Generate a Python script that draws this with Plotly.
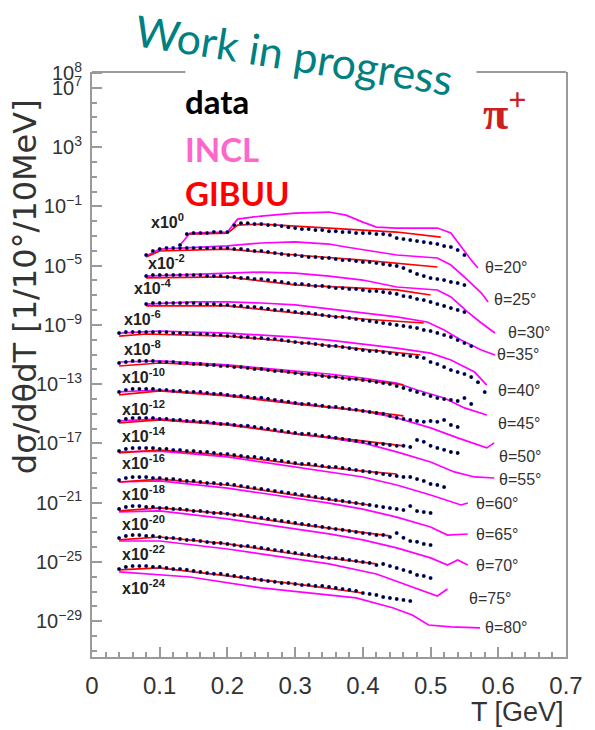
import numpy as np
import plotly.graph_objects as go

# ---------------- data (log10 of unscaled cross section) ----------------
ANGLES = [20, 25, 30, 35, 40, 45, 50, 55, 60, 65, 70, 75, 80]
SCALE_EXP = [0, -2, -4, -6, -8, -10, -12, -14, -16, -18, -20, -22, -24]
DATA_T0 = [0.13, 0.08, 0.08, 0.08, 0.04, 0.04, 0.04, 0.04, 0.04, 0.04, 0.04, 0.04, 0.04]
DATA_STEP = 0.01

DATA_LOG = [
    [-3.61, -2.87, -2.80, -2.80, -2.80, -2.73, -2.73, -2.73, -2.26, -2.13, -2.13, -2.19, -2.19, -2.26, -2.26,
     -2.33, -2.40, -2.46, -2.53, -2.53, -2.60, -2.60, -2.67, -2.67, -2.73, -2.73, -2.80, -2.80, -2.80, -2.87,
     -2.87, -2.93, -3.14, -3.20, -3.27, -3.34, -3.41, -3.47, -3.54, -3.68, -3.74, -3.95, -4.28],
    [-2.28, -2.01, -1.88, -1.81, -1.81, -1.81, -1.81, -1.81, -1.81, -1.81, -1.81, -1.81, -1.81, -1.88, -1.88,
     -1.94, -2.01, -2.01, -2.08, -2.15, -2.21, -2.28, -2.28, -2.35, -2.42, -2.42, -2.48, -2.48, -2.55, -2.62,
     -2.62, -2.69, -2.75, -2.75, -2.82, -2.89, -2.96, -3.02, -3.16, -3.36, -3.56, -3.70, -3.84, -3.90, -3.97,
     -4.10, -4.17, -4.31],
    [-1.70, -1.63, -1.63, -1.63, -1.63, -1.63, -1.63, -1.63, -1.63, -1.70, -1.70, -1.70, -1.76, -1.76, -1.83,
     -1.83, -1.90, -1.90, -1.97, -2.03, -2.10, -2.17, -2.24, -2.24, -2.30, -2.37, -2.37, -2.44, -2.51, -2.51,
     -2.57, -2.57, -2.64, -2.71, -2.71, -2.78, -2.84, -2.91, -3.05, -3.11, -3.25, -3.32, -3.45, -3.59, -3.72,
     -3.86, -3.99, -4.13],
    [-1.59, -1.52, -1.52, -1.52, -1.52, -1.52, -1.52, -1.52, -1.59, -1.59, -1.59, -1.65, -1.65, -1.72, -1.72,
     -1.79, -1.79, -1.86, -1.92, -1.99, -1.99, -2.06, -2.13, -2.19, -2.19, -2.26, -2.33, -2.40, -2.46, -2.46,
     -2.53, -2.60, -2.67, -2.73, -2.80, -2.87, -2.94, -3.00, -3.07, -3.14, -3.21, -3.34, -3.41, -3.54, -3.68,
     -3.81, -4.02, -4.22, -4.42],
    [-1.55, -1.48, -1.48, -1.48, -1.48, -1.48, -1.48, -1.48, -1.55, -1.55, -1.55, -1.61, -1.61, -1.61, -1.68,
     -1.68, -1.75, -1.75, -1.82, -1.82, -1.88, -1.88, -1.95, -1.95, -2.02, -2.09, -2.15, -2.22, -2.22, -2.29,
     -2.36, -2.42, -2.42, -2.49, -2.56, -2.63, -2.69, -2.76, -2.76, -2.83, -2.90, -2.96, -3.03, -3.10, -3.17,
     -3.23, -3.50, -3.64, -3.84, -4.04, -4.18, -4.31, -4.52, -4.86, -5.53],
    [-1.57, -1.50, -1.43, -1.43, -1.43, -1.43, -1.50, -1.50, -1.50, -1.57, -1.57, -1.63, -1.63, -1.70, -1.70,
     -1.77, -1.77, -1.84, -1.84, -1.90, -1.97, -1.97, -2.04, -2.11, -2.11, -2.17, -2.24, -2.31, -2.31, -2.38,
     -2.44, -2.51, -2.51, -2.58, -2.65, -2.65, -2.71, -2.78, -2.85, -2.92, -2.98, -3.12, -3.25, -3.39, -3.52,
     -3.66, -3.79, -3.93, -4.00, -4.06, -4.13, -3.93, -4.33],
    [-1.52, -1.39, -1.32, -1.32, -1.32, -1.32, -1.39, -1.39, -1.45, -1.45, -1.52, -1.52, -1.52, -1.59, -1.65,
     -1.65, -1.72, -1.79, -1.79, -1.86, -1.92, -1.92, -1.99, -2.06, -2.13, -2.19, -2.26, -2.33, -2.33, -2.40,
     -2.46, -2.53, -2.53, -2.60, -2.67, -2.73, -2.80, -2.87, -2.94, -3.00, -3.14, -3.27, -3.34, -3.41, -3.48,
     -3.54, -3.48, -3.54, -3.41, -3.75, -3.88],
    [-1.48, -1.34, -1.28, -1.28, -1.28, -1.28, -1.34, -1.34, -1.41, -1.41, -1.48, -1.48, -1.54, -1.54, -1.61,
     -1.68, -1.68, -1.75, -1.81, -1.81, -1.88, -1.95, -2.02, -2.08, -2.15, -2.22, -2.29, -2.35, -2.35, -2.42,
     -2.49, -2.56, -2.62, -2.69, -2.76, -2.83, -2.89, -2.96, -3.03, -3.03, -3.10, -3.16, -3.16, -3.23, -2.76,
     -2.89, -3.16, -3.30, -3.43, -3.57, -3.64],
    [-1.51, -1.37, -1.31, -1.31, -1.31, -1.31, -1.37, -1.37, -1.44, -1.44, -1.51, -1.51, -1.57, -1.57, -1.64,
     -1.71, -1.71, -1.78, -1.84, -1.91, -1.91, -1.98, -2.05, -2.11, -2.18, -2.25, -2.32, -2.38, -2.38, -2.45,
     -2.52, -2.59, -2.59, -2.65, -2.72, -2.79, -2.86, -2.92, -2.99, -3.06, -3.13, -3.19, -3.26, -3.26, -3.40,
     -3.53, -3.73, -3.80, -3.94],
    [-1.47, -1.33, -1.27, -1.27, -1.27, -1.33, -1.33, -1.40, -1.40, -1.47, -1.53, -1.53, -1.60, -1.67, -1.67,
     -1.74, -1.74, -1.80, -1.87, -1.94, -2.01, -2.07, -2.14, -2.21, -2.28, -2.34, -2.41, -2.48, -2.55, -2.61,
     -2.68, -2.75, -2.82, -2.88, -2.95, -3.02, -3.09, -3.15, -3.22, -3.29, -3.36, -3.42, -3.49, -3.22, -3.56,
     -3.63, -3.69],
    [-1.42, -1.28, -1.22, -1.22, -1.28, -1.28, -1.35, -1.35, -1.42, -1.42, -1.48, -1.55, -1.55, -1.62, -1.69,
     -1.69, -1.75, -1.82, -1.82, -1.89, -1.96, -2.02, -2.09, -2.16, -2.23, -2.29, -2.36, -2.43, -2.50, -2.56,
     -2.63, -2.70, -2.77, -2.83, -2.90, -2.97, -3.04, -3.10, -3.17, -3.17, -3.31, -3.04, -3.37, -3.58, -3.64,
     -3.78, -3.85],
    [-1.38, -1.24, -1.18, -1.18, -1.24, -1.24, -1.31, -1.38, -1.38, -1.44, -1.51, -1.51, -1.58, -1.65, -1.71,
     -1.71, -1.78, -1.85, -1.92, -1.92, -1.98, -2.05, -2.12, -2.19, -2.25, -2.32, -2.39, -2.46, -2.52, -2.59,
     -2.66, -2.73, -2.73, -2.79, -2.86, -2.93, -3.00, -3.06, -3.20, -3.13, -3.27, -3.40, -3.54, -3.67, -3.87,
     -3.94, -4.08],
    [-1.47, -1.33, -1.27, -1.27, -1.27, -1.33, -1.33, -1.40, -1.47, -1.47, -1.53, -1.60, -1.67, -1.74, -1.80,
     -1.80, -1.87, -1.94, -2.01, -2.07, -2.14, -2.21, -2.28, -2.34, -2.41, -2.41, -2.48, -2.55, -2.55, -2.61,
     -2.61, -2.68, -2.75, -2.82, -2.88, -2.95, -3.09, -3.15, -3.22, -3.36, -3.42, -3.49, -3.56, -3.63],
]

INCL_T = [
    [0.13, 0.145, 0.20, 0.215, 0.25, 0.30, 0.35, 0.375, 0.40, 0.42, 0.45, 0.51, 0.53, 0.545, 0.56, 0.57],
    [0.08, 0.10, 0.20, 0.25, 0.30, 0.35, 0.375, 0.45, 0.51, 0.53, 0.555, 0.575, 0.585],
    [0.08, 0.12, 0.20, 0.25, 0.30, 0.35, 0.40, 0.45, 0.51, 0.53, 0.555, 0.575, 0.595],
    [0.08, 0.15, 0.20, 0.25, 0.30, 0.35, 0.40, 0.45, 0.495, 0.52, 0.545, 0.575, 0.595],
    [0.04, 0.10, 0.20, 0.30, 0.35, 0.40, 0.45, 0.50, 0.53, 0.565, 0.583],
    [0.04, 0.10, 0.20, 0.30, 0.35, 0.40, 0.45, 0.48, 0.52, 0.55, 0.583],
    [0.04, 0.10, 0.20, 0.30, 0.35, 0.40, 0.45, 0.50, 0.54, 0.583, 0.594],
    [0.04, 0.10, 0.20, 0.30, 0.35, 0.40, 0.45, 0.50, 0.535, 0.565, 0.594],
    [0.04, 0.10, 0.20, 0.30, 0.35, 0.40, 0.45, 0.50, 0.545, 0.555],
    [0.04, 0.10, 0.20, 0.30, 0.35, 0.40, 0.45, 0.50, 0.525, 0.555],
    [0.04, 0.10, 0.20, 0.30, 0.35, 0.40, 0.45, 0.50, 0.525, 0.54, 0.555],
    [0.04, 0.10, 0.20, 0.30, 0.35, 0.42, 0.47, 0.51, 0.525],
    [0.04, 0.10, 0.145, 0.25, 0.39, 0.445, 0.473, 0.497, 0.53, 0.573],
]
INCL_LOG = [
    [-3.61, -2.80, -2.73, -1.86, -1.65, -1.45, -1.38, -1.59, -2.06, -2.40, -2.46, -2.46, -2.80, -3.74, -4.62, -5.16],
    [-2.35, -1.88, -1.67, -1.47, -1.40, -1.54, -1.74, -2.28, -2.48, -2.96, -3.97, -4.85, -5.45],
    [-1.70, -1.63, -1.50, -1.43, -1.50, -1.70, -1.97, -2.44, -2.64, -3.11, -4.13, -4.87, -5.54],
    [-1.59, -1.45, -1.45, -1.52, -1.65, -1.92, -2.19, -2.46, -2.80, -3.34, -4.02, -4.69, -5.03],
    [-1.55, -1.41, -1.55, -1.82, -2.02, -2.29, -2.56, -2.90, -3.37, -4.18, -5.06],
    [-1.50, -1.43, -1.70, -2.11, -2.31, -2.58, -2.92, -3.39, -3.93, -4.60, -5.08],
    [-1.52, -1.39, -1.72, -2.26, -2.53, -2.80, -3.27, -3.95, -4.62, -5.30, -4.96],
    [-1.48, -1.34, -1.68, -2.35, -2.62, -2.96, -3.57, -4.25, -4.92, -5.26, -5.33],
    [-1.57, -1.51, -1.91, -2.59, -2.92, -3.26, -3.80, -4.48, -5.15, -5.02],
    [-1.60, -1.53, -2.01, -2.68, -3.02, -3.43, -3.97, -4.64, -5.18, -5.11],
    [-1.62, -1.55, -2.09, -2.77, -3.10, -3.51, -4.05, -4.72, -5.20, -4.86, -5.20],
    [-1.58, -1.58, -2.12, -2.79, -3.13, -3.81, -4.62, -5.29, -4.82],
    [-1.67, -1.87, -2.01, -2.75, -3.42, -4.10, -4.57, -5.25, -5.38, -5.45],
]

GIBUU_T = [
    [0.14, 0.20, 0.215, 0.25, 0.30, 0.40, 0.45, 0.515],
    [0.08, 0.10, 0.20, 0.30, 0.40, 0.45, 0.51],
    [0.08, 0.20, 0.30, 0.40, 0.45, 0.50],
    [0.08, 0.20, 0.30, 0.40, 0.49],
    [0.04, 0.08, 0.20, 0.30, 0.40, 0.485],
    [0.04, 0.10, 0.20, 0.30, 0.40, 0.46],
    [0.04, 0.10, 0.20, 0.30, 0.40, 0.46],
    [0.04, 0.10, 0.20, 0.30, 0.40, 0.46],
    [0.04, 0.10, 0.20, 0.30, 0.40, 0.45],
    [0.04, 0.10, 0.20, 0.30, 0.41],
    [0.04, 0.10, 0.20, 0.30, 0.44],
    [0.04, 0.10, 0.20, 0.30, 0.42],
    [0.04, 0.10, 0.20, 0.30, 0.40],
]
GIBUU_LOG = [
    [-2.87, -2.80, -2.26, -2.19, -2.33, -2.60, -2.73, -3.07],
    [-2.42, -2.01, -1.88, -2.28, -2.62, -2.82, -3.09],
    [-1.83, -1.76, -2.30, -2.51, -2.64, -2.98],
    [-1.72, -1.72, -2.19, -2.60, -2.87],
    [-1.75, -1.61, -1.75, -2.15, -2.63, -3.03],
    [-1.77, -1.57, -1.77, -2.24, -2.71, -3.05],
    [-1.72, -1.45, -1.79, -2.33, -2.80, -3.14],
    [-1.61, -1.41, -1.75, -2.35, -2.83, -3.16],
    [-1.64, -1.44, -1.78, -2.38, -2.86, -3.06],
    [-1.60, -1.40, -1.80, -2.48, -3.15],
    [-1.55, -1.35, -1.75, -2.43, -3.24],
    [-1.51, -1.31, -1.78, -2.46, -3.13],
    [-1.53, -1.40, -1.94, -2.48, -3.09],
]

Y_TICK_EXP = [8, 7, 3, -1, -5, -9, -13, -17, -21, -25, -29]
Y_MINOR_EXP = list(range(-31, 9))
X_TICKS = [0, 0.1, 0.2, 0.3, 0.4, 0.5, 0.6, 0.7]
LEGEND_TEXT = ["data", "INCL", "GIBUU"]

# ---------------- layout geometry / styles ----------------
W, H = 595, 730
ML, MR, MT, MB = 92, 21, 72, 73
PW, PH = W - ML - MR, H - MT - MB


def px(x):
    return (x - ML) / PW


def py(y):
    return (H - MB - y) / PH


C_DATA, C_BLUE, C_INCL, C_GIBUU = "black", "#3346ff", "#ff00ff", "#ff0000"
AXC = "#9a9a9a"

# label positions (layout, in page pixels)
MULT_POS = [(150, 221), (147, 262), (133, 287), (123, 318), (123, 348), (120, 376), (120, 408),
            (120, 435), (120, 462), (120, 493), (120, 523), (120, 553), (120, 587)]
ANG_POS = [(490, 267), (499, 299), (513, 332), (502, 355), (503, 390), (503, 423), (504, 456),
           (504, 479), (480, 503), (480, 534), (480, 565), (473, 598), (490, 627)]

fig = go.Figure()

for k in range(len(ANGLES)):
    s = SCALE_EXP[k]
    fig.add_trace(go.Scatter(x=INCL_T[k], y=10 ** (np.array(INCL_LOG[k]) + s), mode="lines",
                             line=dict(color=C_INCL, width=1.7), showlegend=False, hoverinfo="skip"))
    fig.add_trace(go.Scatter(x=GIBUU_T[k], y=10 ** (np.array(GIBUU_LOG[k]) + s), mode="lines",
                             line=dict(color=C_GIBUU, width=1.7), showlegend=False, hoverinfo="skip"))
for k in range(len(ANGLES)):
    s = SCALE_EXP[k]
    v = np.array(DATA_LOG[k])
    t = DATA_T0[k] + DATA_STEP * np.arange(len(v))
    fig.add_trace(go.Scatter(x=t, y=10 ** (v + s), mode="markers",
                             marker=dict(size=4, color=C_BLUE, symbol="circle"),
                             showlegend=False, hoverinfo="skip"))
    fig.add_trace(go.Scatter(x=t, y=10 ** (v + s), mode="markers",
                             marker=dict(size=3.2, color=C_DATA, symbol="circle"),
                             showlegend=False, hoverinfo="skip"))

ann = []
for k in range(len(ANGLES)):
    e = SCALE_EXP[k]
    ann.append(dict(text=f"<b>x10<sup>{e}</sup></b>", x=px(MULT_POS[k][0]), y=py(MULT_POS[k][1]),
                    xref="paper", yref="paper", xanchor="left", yanchor="middle", showarrow=False,
                    font=dict(family="Liberation Sans", size=16, color="#222")))
    ann.append(dict(text=f"θ={ANGLES[k]}°", x=px(ANG_POS[k][0]), y=py(ANG_POS[k][1]),
                    xref="paper", yref="paper", xanchor="left", yanchor="middle", showarrow=False,
                    font=dict(family="Liberation Sans", size=16, color="#333")))

LEG_COL = [C_DATA, "#ff66cc", C_GIBUU]
LEG_Y = [101, 149, 193]
for txt, col, yy in zip(LEGEND_TEXT, LEG_COL, LEG_Y):
    ann.append(dict(text=f"<b>{txt}</b>", x=px(185), y=py(yy), xref="paper", yref="paper",
                    xanchor="left", yanchor="middle", showarrow=False,
                    font=dict(family="Lato", size=33, color=col)))

ann.append(dict(text="Work in progress", x=px(298), y=py(54), xref="paper", yref="paper",
                xanchor="center", yanchor="middle", showarrow=False, textangle=9,
                font=dict(family="Lato", size=43, color="#008080")))
ann.append(dict(text="<b>π<sup>+</sup></b>", x=px(512), y=py(110), xref="paper", yref="paper",
                xanchor="center", yanchor="middle", showarrow=False,
                font=dict(family="Liberation Serif", size=46, color="#cc2020")))
ann.append(dict(text="dσ/dθdT [1/10°/10MeV]", x=px(24), y=py(287), xref="paper", yref="paper",
                xanchor="center", yanchor="middle", showarrow=False, textangle=-90,
                font=dict(family="DejaVu Sans", size=32, color="#333")))
ann.append(dict(text="T [GeV]", x=1.0, y=py(712), xref="paper", yref="paper",
                xanchor="right", yanchor="middle", showarrow=False,
                font=dict(family="Liberation Sans", size=27, color="#333")))

shapes = [
    dict(type="line", xref="paper", yref="paper", x0=0, x1=px(187), y0=1, y1=1,
         line=dict(color=AXC, width=2)),
    dict(type="line", xref="paper", yref="paper", x0=px(483), x1=1, y0=1, y1=1,
         line=dict(color=AXC, width=2)),
]


def sup(e):
    return "10<sup>" + (str(e) if e >= 0 else "\u2212" + str(-e)) + "</sup>"


fig.update_layout(
    width=W, height=H, margin=dict(l=ML, r=MR, t=MT, b=MB),
    paper_bgcolor="white", plot_bgcolor="white",
    annotations=ann, shapes=shapes, showlegend=False,
    xaxis=dict(range=[0, 0.7], tickvals=X_TICKS, ticktext=[f"{v:g}" for v in X_TICKS],
               ticks="inside", ticklen=10, tickwidth=1.5, tickcolor=AXC,
               minor=dict(dtick=0.02, tick0=0, ticks="inside", ticklen=5, tickwidth=1.5, tickcolor=AXC),
               showline=True, linecolor=AXC, linewidth=2, mirror=False,
               showgrid=False, zeroline=False, ticklabelstandoff=6,
               tickfont=dict(family="Liberation Sans", size=24, color="#333")),
    yaxis=dict(type="log", range=[-31.41, 8.07],
               tickvals=[10.0 ** e for e in Y_TICK_EXP], ticktext=[sup(e) for e in Y_TICK_EXP],
               ticks="inside", ticklen=10, tickwidth=1.5, tickcolor=AXC,
               minor=dict(tickvals=[10.0 ** e for e in Y_MINOR_EXP], ticks="inside", ticklen=5,
                          tickwidth=1.5, tickcolor=AXC),
               showline=True, linecolor=AXC, linewidth=2, mirror=True,
               showgrid=False, zeroline=False, ticklabelstandoff=4,
               tickfont=dict(family="Liberation Sans", size=20, color="#333")),
)

fig.write_html("out.html", config={"displayModeBar": False})
